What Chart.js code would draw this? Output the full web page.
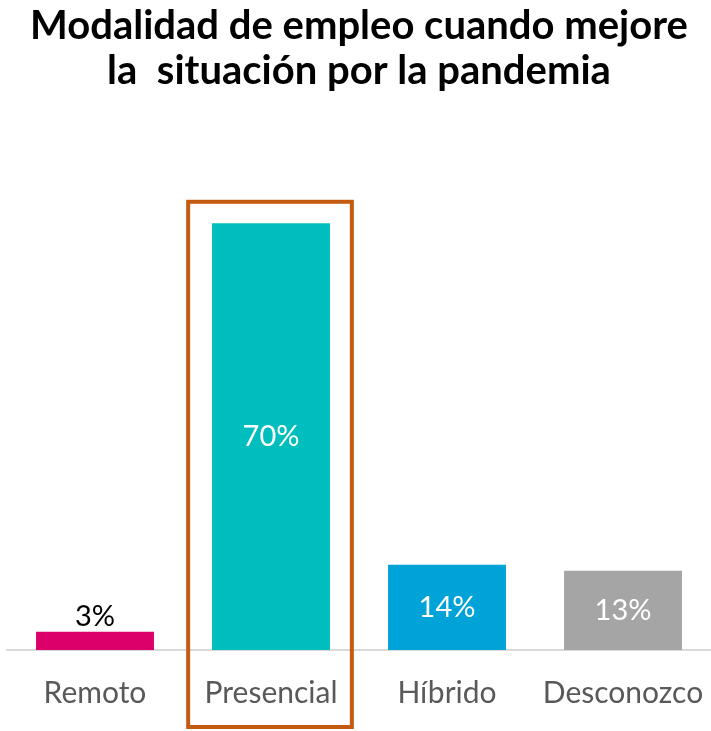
<!DOCTYPE html>
<html>
<head>
<meta charset="utf-8">
<script src="https://cdn.jsdelivr.net/npm/chart.js@4"></script>
<style>
  html, body { margin: 0; padding: 0; background: #fff; }
  #wrap { width: 711px; height: 731px; }
</style>
</head>
<body>
<div id="wrap"><canvas id="grafico" width="711" height="731"></canvas></div>
<script>
const categorias = ['Remoto', 'Presencial', 'Híbrido', 'Desconozco'];
const porcentajes = [3, 70, 14, 13];
const colores = ['#DC006B', '#00BEBE', '#00A3D7', '#A5A5A5'];
const titulo = ['Modalidad de empleo cuando mejore', 'la  situación por la pandemia'];
const destacado = 1; // barra con recuadro naranja

// etiquetas de valor: dentro de la barra en blanco, encima si la barra es baja
const etiquetasValor = {
    id: 'etiquetasValor',
    afterDatasetsDraw(chart) {
        const ctx = chart.ctx;
        const meta = chart.getDatasetMeta(0);
        ctx.save();
        ctx.font = '29px Lato';
        ctx.textAlign = 'center';
        meta.data.forEach((bar, i) => {
            const v = porcentajes[i];
            if (v < 5) {
                ctx.fillStyle = '#000000';
                ctx.textBaseline = 'bottom';
                ctx.fillText(v + '%', bar.x, bar.y - 1);
            } else {
                ctx.fillStyle = '#ffffff';
                ctx.textBaseline = 'middle';
                ctx.fillText(v + '%', bar.x, (bar.y + bar.base) / 2);
            }
        });
        ctx.restore();
    }
};

// recuadro alrededor de la categoría destacada
const recuadro = {
    id: 'recuadro',
    afterDraw(chart) {
        const ctx = chart.ctx;
        const x = chart.scales.x;
        const y = chart.scales.y;
        const ancho = (x.getPixelForValue(1) - x.getPixelForValue(0)) * 0.93;
        const cx = x.getPixelForValue(destacado) - 1;
        const arriba = y.getPixelForValue(73.5);
        const abajo = chart.height - 4;
        ctx.save();
        ctx.strokeStyle = '#C55A11';
        ctx.lineWidth = 4;
        ctx.strokeRect(cx - ancho / 2, arriba, ancho, abajo - arriba);
        ctx.restore();
    }
};

new Chart(document.getElementById('grafico'), {
    type: 'bar',
    data: {
        labels: categorias,
        datasets: [{
            data: porcentajes,
            backgroundColor: colores,
            borderWidth: 0,
            barPercentage: 0.67,
            categoryPercentage: 1
        }]
    },
    options: {
        responsive: false,
        animation: false,
        layout: { padding: { left: 7, right: 0, top: 0, bottom: 0 } },
        plugins: {
            legend: { display: false },
            tooltip: { enabled: false },
            title: {
                display: true,
                text: titulo,
                color: '#000000',
                font: { family: 'Lato', size: 40, weight: 'bold', lineHeight: 1.12 },
                padding: { top: 4, bottom: 10 }
            }
        },
        scales: {
            x: {
                grid: { display: false, drawTicks: false },
                border: { color: '#D9D9D9', width: 2 },
                ticks: { color: '#595959', font: { family: 'Lato', size: 30 }, padding: 25 },
                afterFit(scale) {
                    scale.height = 81;
                    scale.paddingLeft = 0;
                    scale.paddingRight = 0;
                }
            },
            y: {
                display: false,
                min: 0,
                max: 89.6
            }
        }
    },
    plugins: [etiquetasValor, recuadro]
});
</script>
</body>
</html>
